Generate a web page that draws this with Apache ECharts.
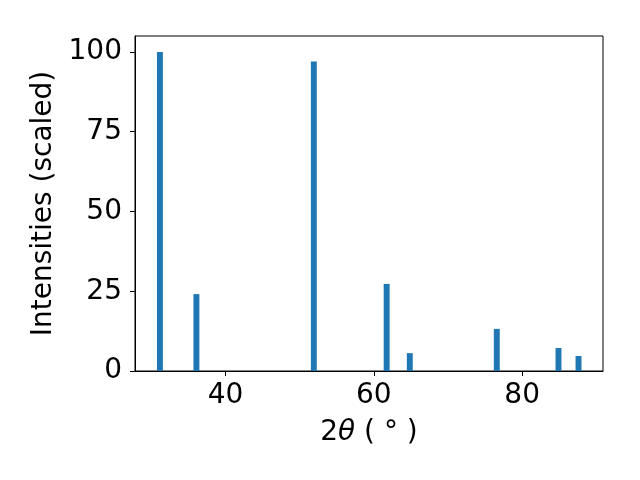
<!DOCTYPE html>
<html>
<head>
<meta charset="utf-8">
<script src="https://cdn.jsdelivr.net/npm/echarts@6/dist/echarts.min.js"></script>
<style>html,body{margin:0;padding:0;background:#fff}#c{width:640px;height:480px}</style>
</head>
<body>
<div id="c"></div>
<script>
var positions = [31.16, 36.08, 51.91, 61.73, 64.85, 76.58, 84.9, 87.6];
var intensities = [100, 24.1, 97, 27.3, 5.6, 13.2, 7.2, 4.7];
var xTicks = [40, 60, 80];
var yTicks = [0, 25, 50, 75, 100];

var barWidthUnits = 0.8;
var font = '"DejaVu Sans", sans-serif';
var data = positions.map(function (x, i) { return [x, intensities[i]]; });

var chart = echarts.init(document.getElementById('c'), null, {renderer: 'canvas'});
chart.setOption({
  animation: false,
  backgroundColor: '#fff',
  grid: {left: 135, right: 37, top: 36, bottom: 109, show: true, borderColor: '#000', borderWidth: 1, backgroundColor: 'transparent'},
  xAxis: {
    type: 'value', min: 27.8, max: 90.9,
    splitLine: {show: false},
    axisLine: {show: true, onZero: false, lineStyle: {color: '#000', width: 1}},
    axisTick: {show: true, inside: false, length: 5, lineStyle: {color: '#000'}, customValues: xTicks},
    axisLabel: {color: '#000', fontSize: 28, fontFamily: font, margin: 11, customValues: xTicks},
    name: '{n|2}{i|θ}{n| ( }{d|°}{n| )}',
    nameLocation: 'middle', nameGap: 48,
    nameTextStyle: {
      color: '#000', fontSize: 28, fontFamily: font,
      rich: {
        n: {fontSize: 28, fontFamily: font, color: '#000'},
        i: {fontSize: 28, fontFamily: font, fontStyle: 'italic', color: '#000'},
        d: {fontSize: 28, fontFamily: font, color: '#000'}
      }
    }
  },
  yAxis: {
    type: 'value', min: 0, max: 105,
    splitLine: {show: false},
    axisLine: {show: true, lineStyle: {color: '#000', width: 1}},
    axisTick: {show: true, inside: false, length: 5, lineStyle: {color: '#000'}, customValues: yTicks},
    axisLabel: {color: '#000', fontSize: 28, fontFamily: font, margin: 13, customValues: yTicks},
    name: 'Intensities (scaled)',
    nameLocation: 'middle', nameGap: 72,
    nameTextStyle: {color: '#000', fontSize: 28, fontFamily: font}
  },
  series: [{
    type: 'custom',
    data: data,
    renderItem: function (params, api) {
      var x = api.value(0), y = api.value(1);
      var p0 = api.coord([x - barWidthUnits / 2, y]);
      var p1 = api.coord([x + barWidthUnits / 2, 0]);
      return {
        type: 'rect',
        shape: {x: p0[0], y: p0[1], width: p1[0] - p0[0], height: p1[1] - p0[1]},
        style: {fill: '#1f77b4'}
      };
    }
  }]
});
</script>
</body>
</html>
